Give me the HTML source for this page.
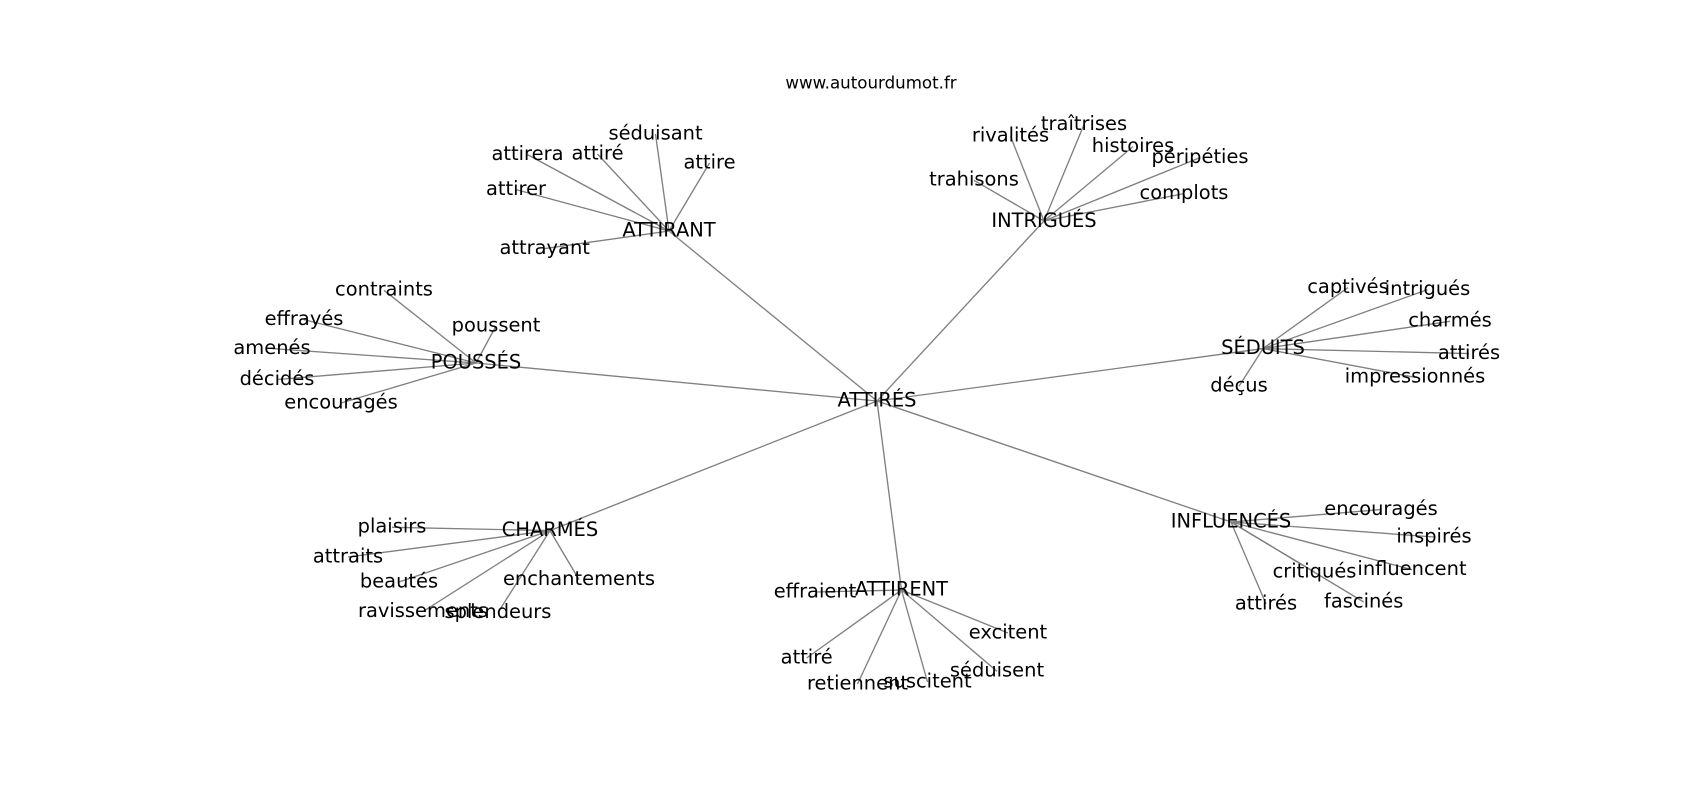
<!DOCTYPE html>
<html>
<head>
<meta charset="utf-8">
<style>
html,body{margin:0;padding:0;background:#fff;}
svg{display:block;}
text{font-family:"DejaVu Sans","Liberation Sans",sans-serif;fill:#000;}
.n{font-size:19.44px;text-anchor:middle;}
.t{font-size:16.67px;text-anchor:middle;}
line{stroke:#808080;stroke-width:1.35;}
</style>
</head>
<body>
<svg width="1700" height="800" viewBox="0 0 1700 800" xmlns="http://www.w3.org/2000/svg">
<rect width="1700" height="800" fill="#fff"/>
<g>
<!-- hub edges -->
<line x1="877" y1="401" x2="669" y2="231"/>
<line x1="877" y1="401" x2="1044" y2="221"/>
<line x1="877" y1="401" x2="476" y2="363"/>
<line x1="877" y1="401" x2="1263" y2="348.6"/>
<line x1="877" y1="401" x2="550" y2="530.6"/>
<line x1="877" y1="401" x2="901.5" y2="590"/>
<line x1="877" y1="401" x2="1231" y2="522"/>
<!-- ATTIRANT -->
<line x1="669" y1="231" x2="655.5" y2="134"/>
<line x1="669" y1="231" x2="527.5" y2="154.6"/>
<line x1="669" y1="231" x2="597.5" y2="154"/>
<line x1="669" y1="231" x2="709.5" y2="163"/>
<line x1="669" y1="231" x2="516" y2="189.6"/>
<line x1="669" y1="231" x2="544.7" y2="248.6"/>
<!-- INTRIGUÉS -->
<line x1="1044" y1="221" x2="1010.5" y2="136.3"/>
<line x1="1044" y1="221" x2="1084" y2="124.6"/>
<line x1="1044" y1="221" x2="1133" y2="146.6"/>
<line x1="1044" y1="221" x2="1200" y2="157.6"/>
<line x1="1044" y1="221" x2="1184" y2="193.6"/>
<line x1="1044" y1="221" x2="974" y2="180.3"/>
<!-- POUSSÉS -->
<line x1="476" y1="363" x2="384" y2="290.3"/>
<line x1="476" y1="363" x2="304" y2="319.6"/>
<line x1="476" y1="363" x2="272" y2="348.6"/>
<line x1="476" y1="363" x2="277" y2="379.6"/>
<line x1="476" y1="363" x2="341" y2="403"/>
<line x1="476" y1="363" x2="496" y2="326"/>
<!-- SÉDUITS -->
<line x1="1263" y1="348.6" x2="1348" y2="287.6"/>
<line x1="1263" y1="348.6" x2="1427.5" y2="289.6"/>
<line x1="1263" y1="348.6" x2="1450" y2="321.3"/>
<line x1="1263" y1="348.6" x2="1469" y2="353.6"/>
<line x1="1263" y1="348.6" x2="1415" y2="377.3"/>
<line x1="1263" y1="348.6" x2="1239" y2="386.3"/>
<!-- CHARMÉS -->
<line x1="550" y1="530.6" x2="392" y2="527.3"/>
<line x1="550" y1="530.6" x2="348" y2="557"/>
<line x1="550" y1="530.6" x2="399" y2="582"/>
<line x1="550" y1="530.6" x2="423" y2="611.6"/>
<line x1="550" y1="530.6" x2="498" y2="612.5"/>
<line x1="550" y1="530.6" x2="579" y2="579.6"/>
<!-- ATTIRENT -->
<line x1="901.5" y1="590" x2="815" y2="592"/>
<line x1="901.5" y1="590" x2="806.7" y2="658"/>
<line x1="901.5" y1="590" x2="857.5" y2="684"/>
<line x1="901.5" y1="590" x2="927.5" y2="682"/>
<line x1="901.5" y1="590" x2="997" y2="671.3"/>
<line x1="901.5" y1="590" x2="1008" y2="633"/>
<!-- INFLUENCÉS -->
<line x1="1231" y1="522" x2="1381" y2="509.6"/>
<line x1="1231" y1="522" x2="1434" y2="537"/>
<line x1="1231" y1="522" x2="1412" y2="569.6"/>
<line x1="1231" y1="522" x2="1314.5" y2="572"/>
<line x1="1231" y1="522" x2="1363.7" y2="602"/>
<line x1="1231" y1="522" x2="1266" y2="604"/>
</g>

<text class="t" x="871" y="88.3">www.autourdumot.fr</text>

<g class="n">
<text class="n" x="877" y="406.5">ATTIRÉS</text>

<text class="n" x="669" y="236.5">ATTIRANT</text>
<text class="n" x="655.5" y="139.4">séduisant</text>
<text class="n" x="527.5" y="160">attirera</text>
<text class="n" x="597.5" y="159.4">attiré</text>
<text class="n" x="709.5" y="168.4">attire</text>
<text class="n" x="516" y="195">attirer</text>
<text class="n" x="544.7" y="254">attrayant</text>

<text class="n" x="1044" y="226.8">INTRIGUÉS</text>
<text class="n" x="1010.5" y="141.7">rivalités</text>
<text class="n" x="1084" y="130">traîtrises</text>
<text class="n" x="1133" y="152">histoires</text>
<text class="n" x="1200" y="163">péripéties</text>
<text class="n" x="1184" y="199">complots</text>
<text class="n" x="974" y="185.7">trahisons</text>

<text class="n" x="476" y="368.4">POUSSÉS</text>
<text class="n" x="384" y="295.7">contraints</text>
<text class="n" x="304" y="325">effrayés</text>
<text class="n" x="272" y="354">amenés</text>
<text class="n" x="277" y="385">décidés</text>
<text class="n" x="341" y="408.4">encouragés</text>
<text class="n" x="496" y="331.4">poussent</text>

<text class="n" x="1263" y="354">SÉDUITS</text>
<text class="n" x="1348" y="293">captivés</text>
<text class="n" x="1427.5" y="295">intrigués</text>
<text class="n" x="1450" y="326.7">charmés</text>
<text class="n" x="1469" y="359">attirés</text>
<text class="n" x="1415" y="382.7">impressionnés</text>
<text class="n" x="1239" y="391.7">déçus</text>

<text class="n" x="550" y="536">CHARMÉS</text>
<text class="n" x="392" y="532.7">plaisirs</text>
<text class="n" x="348" y="562.4">attraits</text>
<text class="n" x="399" y="587.4">beautés</text>
<text class="n" x="423" y="617">ravissements</text>
<text class="n" x="498" y="617.9">splendeurs</text>
<text class="n" x="579" y="585">enchantements</text>

<text class="n" x="901.5" y="595.4">ATTIRENT</text>
<text class="n" x="815" y="597.6">effraient</text>
<text class="n" x="806.7" y="663.4">attiré</text>
<text class="n" x="857.5" y="689.4">retiennent</text>
<text class="n" x="927.5" y="687.4">suscitent</text>
<text class="n" x="997" y="676.7">séduisent</text>
<text class="n" x="1008" y="638.4">excitent</text>

<text class="n" x="1231" y="527.6">INFLUENCÉS</text>
<text class="n" x="1381" y="515">encouragés</text>
<text class="n" x="1434" y="542.4">inspirés</text>
<text class="n" x="1412" y="575">influencent</text>
<text class="n" x="1314.5" y="577.4">critiqués</text>
<text class="n" x="1363.7" y="607.4">fascinés</text>
<text class="n" x="1266" y="609.4">attirés</text>
</g>
</svg>
</body>
</html>
